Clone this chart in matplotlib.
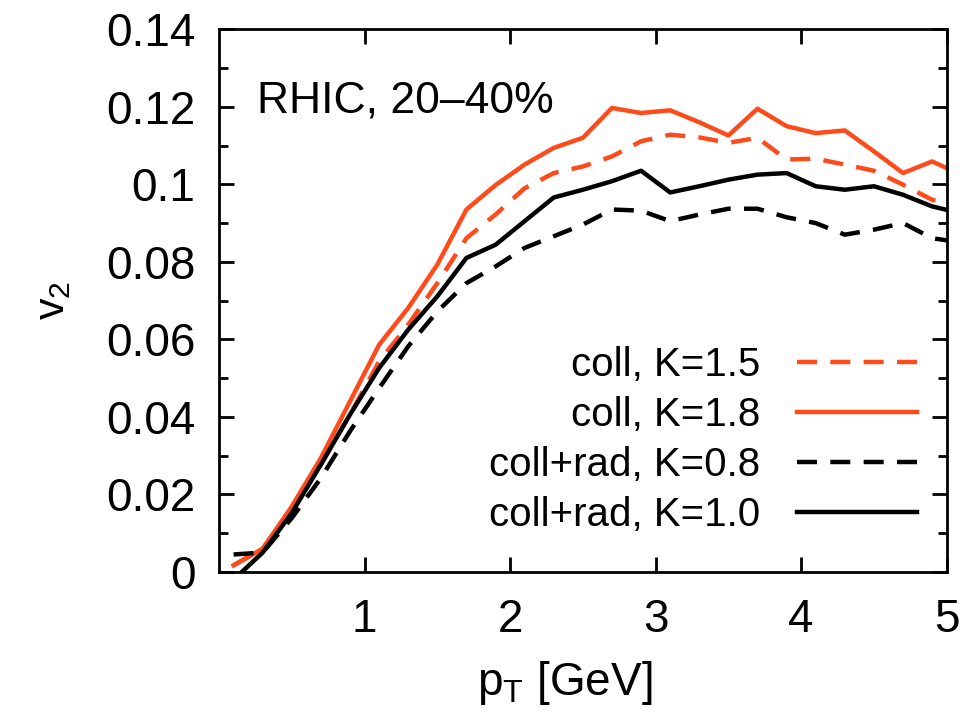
import matplotlib
matplotlib.use('Agg')
import matplotlib.pyplot as plt
from matplotlib.ticker import MultipleLocator

plt.rcParams['font.family'] = ['Liberation Sans', 'DejaVu Sans']
plt.rcParams['mathtext.fontset'] = 'custom'
plt.rcParams['mathtext.rm'] = 'Liberation Sans'
plt.rcParams['mathtext.it'] = 'Liberation Sans'

# pT grid (GeV)
pt = [0.1, 0.3, 0.5, 0.7, 0.9, 1.1, 1.3, 1.5, 1.7, 1.9, 2.1, 2.3, 2.5,
      2.7, 2.9, 3.1, 3.3, 3.5, 3.7, 3.9, 4.1, 4.3, 4.5, 4.7, 4.9, 5.1]

# coll, K=1.5
v2_coll_15 = [0.0017, 0.006, 0.016, 0.0277, 0.0406, 0.0543, 0.0638, 0.0745, 0.0861,
              0.0922, 0.099, 0.1029, 0.1046, 0.1072, 0.1111, 0.1128, 0.1121, 0.1107,
              0.112, 0.1064, 0.1066, 0.1051, 0.1035, 0.0999, 0.096, 0.0945]
# coll, K=1.8
v2_coll_18 = [0.0017, 0.006, 0.0169, 0.0294, 0.044, 0.0586, 0.0681, 0.0793, 0.0935,
              0.0998, 0.1051, 0.1094, 0.112, 0.1197, 0.1184, 0.1191, 0.116, 0.1126,
              0.1195, 0.115, 0.1132, 0.1139, 0.1085, 0.1029, 0.1059, 0.1025]
# coll+rad, K=0.8
v2_rad_08 = [0.0045, 0.005, 0.0139, 0.0242, 0.0363, 0.0474, 0.0582, 0.0672, 0.0745,
             0.0788, 0.0836, 0.0866, 0.0896, 0.0935, 0.0932, 0.0905, 0.0922, 0.0937,
             0.0937, 0.0915, 0.090, 0.087, 0.0883, 0.090, 0.0861, 0.085]
# coll+rad, K=1.0
v2_rad_10 = [-0.002, 0.005, 0.0152, 0.0277, 0.0406, 0.0526, 0.0625, 0.0711, 0.081,
             0.0844, 0.0905, 0.0966, 0.0986, 0.1008, 0.1035, 0.0979, 0.0995, 0.1012,
             0.1025, 0.1029, 0.0995, 0.0986, 0.0995, 0.0973, 0.0943, 0.0925]

orange = '#ff4a1a'

fig = plt.figure(figsize=(9.8, 7.14), dpi=100)
ax = fig.add_axes([0.2235, 0.199, 0.7425, 0.760])

ax.plot(pt, v2_coll_15, color=orange, lw=3.2, dashes=(4.5, 3), label='coll, K=1.5')
ax.plot(pt, v2_coll_18, color=orange, lw=3.2, label='coll, K=1.8')
ax.plot(pt, v2_rad_08, color='black', lw=3.2, dashes=(4.5, 3), label='coll+rad, K=0.8')
ax.plot(pt, v2_rad_10, color='black', lw=3.2, label='coll+rad, K=1.0')

ax.set_xlim(0, 5)
ax.set_ylim(0, 0.14)
ax.set_xticks([1, 2, 3, 4, 5])
ax.set_yticks([0, 0.02, 0.04, 0.06, 0.08, 0.1, 0.12, 0.14])
ax.set_yticklabels(['0', '0.02', '0.04', '0.06', '0.08', '0.1', '0.12', '0.14'])
ax.yaxis.set_minor_locator(MultipleLocator(0.01))
ax.tick_params(which='both', direction='in', top=True, right=True, width=2)
ax.tick_params(which='major', length=11, labelsize=33)
ax.tick_params(which='minor', length=6.5)
ax.tick_params(axis='x', which='major', pad=19)
ax.tick_params(axis='y', which='major', pad=17)
for s in ax.spines.values():
    s.set_linewidth(2)

ax.set_xlabel(r'p$_\mathregular{T}$ [GeV]', fontsize=33, labelpad=8)
ax.xaxis.set_label_coords(0.475, -0.16)
ax.set_ylabel(r'v$_\mathregular{2}$', fontsize=31, labelpad=24)

ax.text(0.26, 0.1214, 'RHIC, 20\u201340%', fontsize=32, va='center')

ax.legend(loc='lower right', bbox_to_anchor=(0.982, 0.04), borderaxespad=0,
          frameon=False, markerfirst=False, fontsize=29, handlelength=3.0,
          labelspacing=0.3, handletextpad=0.9)

fig.savefig('out.png', dpi=100)
